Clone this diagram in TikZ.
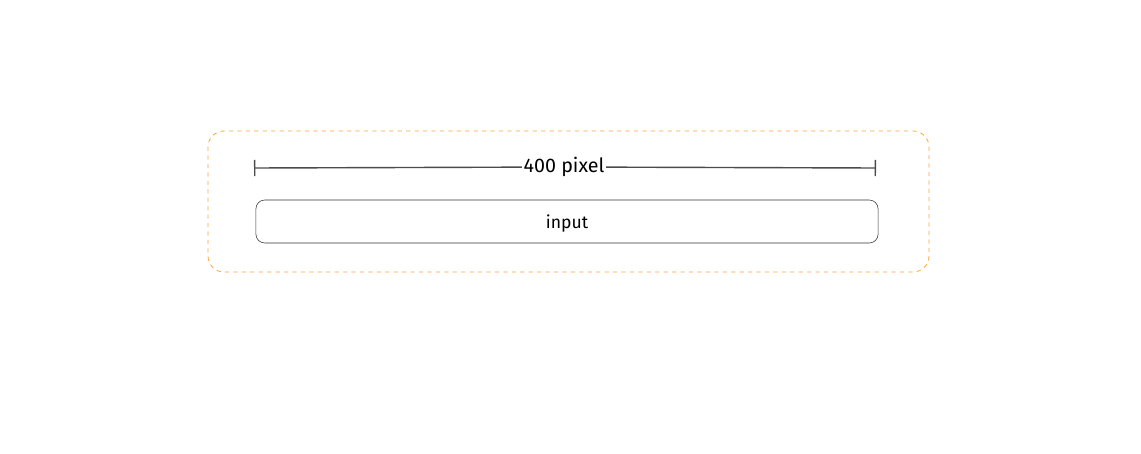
\documentclass[tikz,border=0pt]{standalone}
\usepackage{fontspec}
\setmainfont{Fira Sans}
\usetikzlibrary{arrows.meta}
\definecolor{frameorange}{RGB}{248,168,60}
\definecolor{dimgray}{RGB}{75,75,75}

\begin{document}
\begin{tikzpicture}[x=0.025cm, y=-0.025cm]
\useasboundingbox (0,0) rectangle (1141,453);

% outer dashed frame
\draw[frameorange, dashed, line width=0.6pt, rounded corners=0.4cm] (208,131) rectangle (929,272);

% width marker
\coordinate (dimL) at (254,168);
\coordinate (dimR) at (876,168);
\node[font=\fontsize{14}{16}\selectfont, inner sep=1pt] (dimlabel) at (564,167) {400 pixel};
\draw[dimgray, line width=1pt, {Bar[width=0.4cm]}-] (dimL) -- (dimlabel);
\draw[dimgray, line width=1pt, -{Bar[width=0.4cm]}] (dimlabel) -- (dimR);

% input field
\node[draw=black!80, line width=0.4pt, rounded corners=0.22cm, minimum width=15.55cm, minimum height=1.075cm, font=\fontsize{12.5}{14}\selectfont, text depth=0pt] (input) at (567,221.5) {input};
\end{tikzpicture}
\end{document}
